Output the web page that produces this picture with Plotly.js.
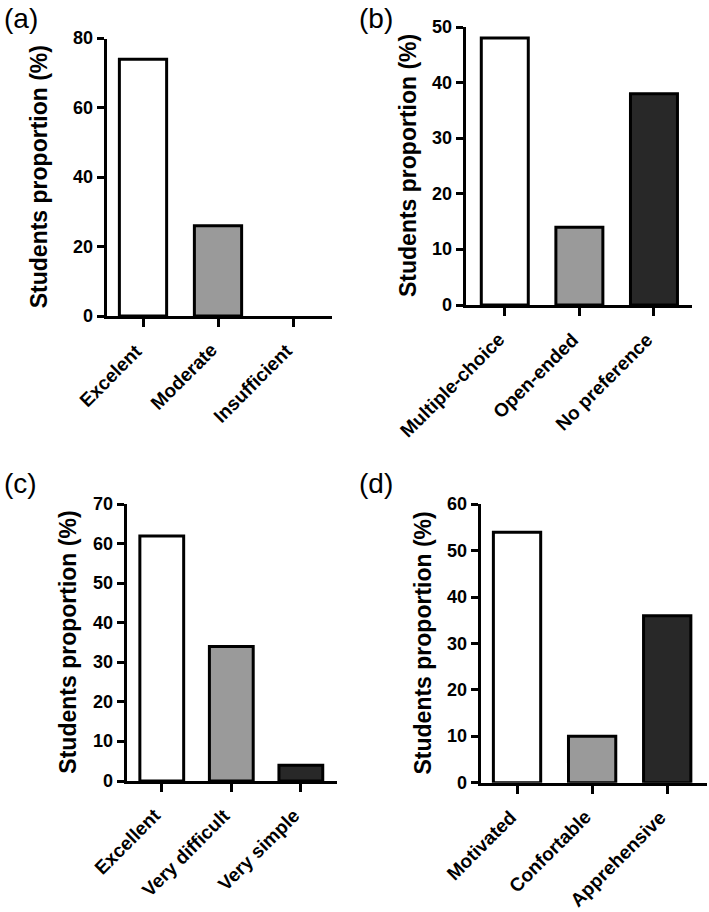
<!DOCTYPE html>
<html>
<head>
<meta charset="utf-8">
<script src="https://cdn.plot.ly/plotly-3.0.1.min.js"></script>
<style>
html,body{margin:0;padding:0;background:#fff}
#chart{width:709px;height:912px}
</style>
</head>
<body>
<div id="chart"></div>
<script>
// ---- data ----
const catsA = ['Excelent', 'Moderate', 'Insufficient'];
const valsA = [74, 26, 0];
const catsB = ['Multiple-choice', 'Open-ended', 'No preference'];
const valsB = [48, 14, 38];
const catsC = ['Excellent', 'Very difficult', 'Very simple'];
const valsC = [62, 34, 4];
const catsD = ['Motivated', 'Confortable', 'Apprehensive'];
const valsD = [54, 10, 36];
const yTicksA = [0, 20, 40, 60, 80];
const yTicksB = [0, 10, 20, 30, 40, 50];
const yTicksC = [0, 10, 20, 30, 40, 50, 60, 70];
const yTicksD = [0, 10, 20, 30, 40, 50, 60];
const panelLabels = ['(a)', '(b)', '(c)', '(d)'];
const yTitle = 'Students proportion (%)';

// ---- styling / layout ----
const W = 709, H = 912;
const fills = ['#ffffff', '#9a9a9a', '#282828'];
const FONT = 'Liberation Sans, Arial, Helvetica, sans-serif';
const px = v => v / W;
const py = v => 1 - v / H;
const b = s => '<b>' + s + '</b>';

const panels = [
  {cats: catsA, vals: valsA, yt: yTicksA, x0: 107, x1: 332, yb: 316, ytop: 38.5, xr: [-0.48, 2.52], tx: 39, lx: 2, ly: 18.5},
  {cats: catsB, vals: valsB, yt: yTicksB, x0: 466, x1: 692, yb: 305, ytop: 27, xr: [-0.52, 2.51], tx: 408, lx: 357, ly: 18.5},
  {cats: catsC, vals: valsC, yt: yTicksC, x0: 127, x1: 337, yb: 781, ytop: 504.3, xr: [-0.50, 2.52], tx: 68, lx: 2, ly: 483.5},
  {cats: catsD, vals: valsD, yt: yTicksD, x0: 481, x1: 707, yb: 782.7, ytop: 504.3, xr: [-0.48, 2.53], tx: 422, lx: 357, ly: 483.5}
];

const data = [];
const layout = {
  width: W, height: H,
  margin: {l: 0, r: 0, t: 0, b: 0},
  paper_bgcolor: '#fff', plot_bgcolor: 'rgba(0,0,0,0)',
  showlegend: false,
  font: {family: FONT, color: '#000'},
  annotations: []
};

panels.forEach((p, i) => {
  const n = i === 0 ? '' : String(i + 1);
  data.push({
    type: 'bar',
    x: p.cats, y: p.vals,
    xaxis: 'x' + n, yaxis: 'y' + n,
    width: 0.63,
    marker: {color: fills, line: {color: '#000', width: p.vals.map(v => v > 0 ? 3 : 0)}},
    hoverinfo: 'none'
  });
  layout['xaxis' + n] = {
    domain: [px(p.x0), px(p.x1)],
    anchor: 'y' + n,
    type: 'category',
    range: p.xr,
    tickmode: 'array', tickvals: p.cats, showticklabels: false,
    showline: true, linewidth: 3, linecolor: '#000',
    ticks: 'outside', ticklen: 8, tickwidth: 3, tickcolor: '#000',
    showgrid: false, zeroline: false, fixedrange: true
  };
  layout['yaxis' + n] = {
    domain: [py(p.yb), py(p.ytop)],
    anchor: 'x' + n,
    range: [p.yt[0], p.yt[p.yt.length - 1]],
    tickmode: 'array', tickvals: p.yt, showticklabels: false,
    showline: true, linewidth: 3, linecolor: '#000',
    ticks: 'outside', ticklen: 7, tickwidth: 3, tickcolor: '#000',
    showgrid: false, zeroline: false, fixedrange: true
  };
  // bold rotated category labels, placed through the x axis scale
  p.cats.forEach(c => {
    layout.annotations.push({
      text: b(c), textangle: -45,
      xref: 'x' + n, x: c,
      yref: 'paper', y: py(p.yb + 21),
      xanchor: 'right', yanchor: 'top', xshift: 6,
      showarrow: false,
      font: {family: FONT, size: 19, color: '#000'}
    });
  });
  // bold y tick labels, placed through the y axis scale
  p.yt.forEach(v => {
    layout.annotations.push({
      text: b(String(v)),
      xref: 'paper', x: px(p.x0 - 12),
      yref: 'y' + n, y: v,
      xanchor: 'right', yanchor: 'middle',
      showarrow: false,
      font: {family: FONT, size: 18, color: '#000'}
    });
  });
  layout.annotations.push({
    text: b(yTitle), textangle: -90,
    xref: 'paper', yref: 'paper',
    x: px(p.tx), y: py((p.yb + p.ytop) / 2),
    xanchor: 'center', yanchor: 'middle', showarrow: false,
    font: {family: FONT, size: 23, color: '#000'}
  });
  layout.annotations.push({
    text: panelLabels[i],
    xref: 'paper', yref: 'paper',
    x: px(p.lx), y: py(p.ly),
    xanchor: 'left', yanchor: 'middle', showarrow: false,
    font: {family: FONT, size: 28, color: '#000'}
  });
});

Plotly.newPlot('chart', data, layout, {staticPlot: true, displayModeBar: false});
</script>
</body>
</html>
